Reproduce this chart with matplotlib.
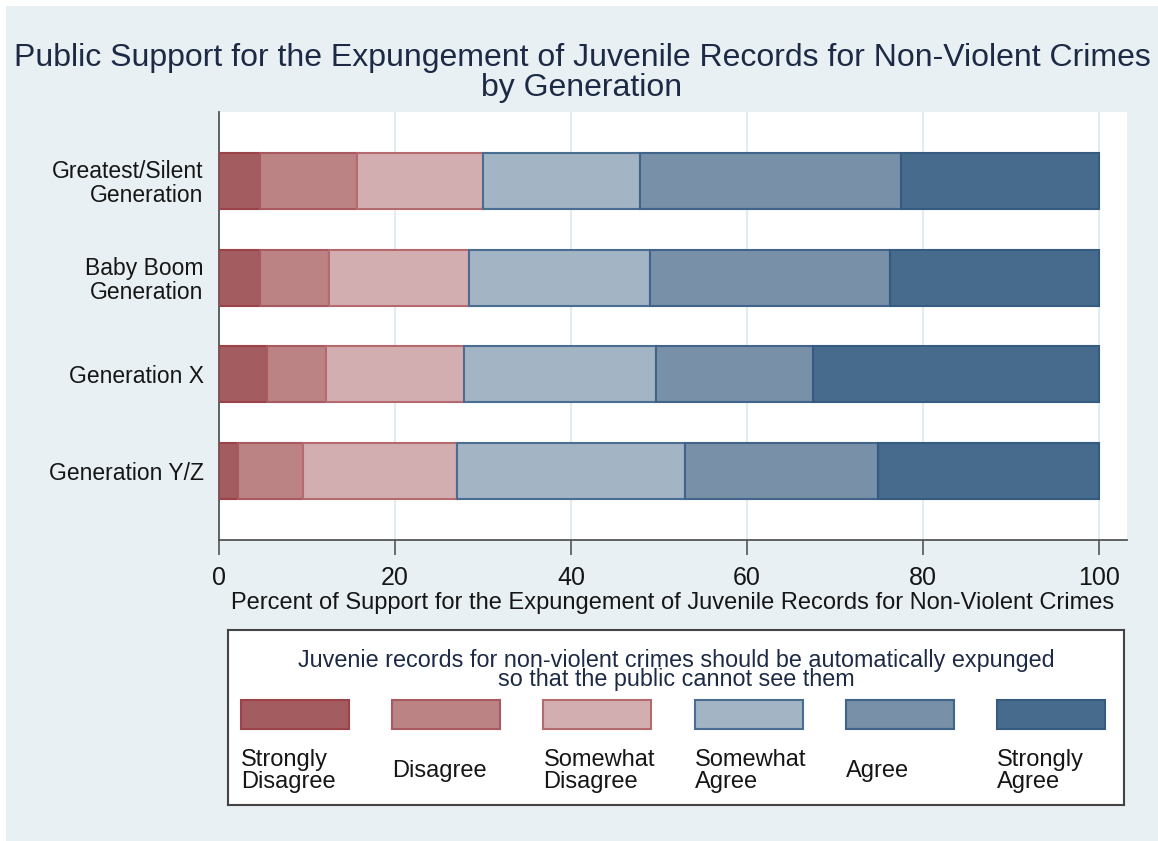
import matplotlib
matplotlib.use("Agg")
import matplotlib.pyplot as plt
from matplotlib.patches import Rectangle

plt.rcParams['font.family'] = ['Liberation Sans', 'DejaVu Sans']

# data (percent of respondents)
generations = ["Greatest/Silent\nGeneration", "Baby Boom\nGeneration",
               "Generation X", "Generation Y/Z"]
responses = ["Strongly\nDisagree", "Disagree", "Somewhat\nDisagree",
             "Somewhat\nAgree", "Agree", "Strongly\nAgree"]
strongly_disagree = [4.7, 4.7, 5.4, 2.2]
disagree = [11.0, 7.8, 6.8, 7.4]
somewhat_disagree = [14.3, 15.9, 15.7, 17.5]
somewhat_agree = [17.9, 20.6, 21.8, 25.9]
agree = [29.6, 27.3, 17.8, 21.9]
strongly_agree = [22.5, 23.7, 32.5, 25.1]

series = [strongly_disagree, disagree, somewhat_disagree,
          somewhat_agree, agree, strongly_agree]
fills = ["#a35c60", "#bb8384", "#d3aeb0", "#a3b4c5", "#7890a8", "#476b8c"]
edges = ["#9c4249", "#a85a60", "#b56a70", "#4a6e92", "#41658a", "#365b80"]

panel = "#e8f0f3"
title_col = "#1d2a45"
text_col = "#161616"

fig = plt.figure(figsize=(11.58, 8.41), dpi=100)
fig.patch.set_facecolor("white")
fig.patches.append(Rectangle((6 / 1158, 0), 1, 1 - 6 / 841, transform=fig.transFigure,
                             facecolor=panel, edgecolor="none", zorder=-10))

ax = fig.add_axes([219 / 1158, 1 - 540 / 841, 908 / 1158, 428 / 841])
ax.set_facecolor("white")

ypos = list(range(1, len(generations) + 1))
left = [0.0] * len(generations)
for vals, fc, ec in zip(series, fills, edges):
    ax.barh(ypos, vals, left=left, height=0.58, color=fc, edgecolor=ec,
            linewidth=1.5, zorder=3)
    left = [l + v for l, v in zip(left, vals)]

ax.set_xlim(0, 103.2)
ax.set_ylim(4.71, 0.29)
ax.set_xticks([0, 20, 40, 60, 80, 100])
ax.set_yticks(ypos)
ax.set_yticklabels(generations, fontsize=16.5, color=text_col, linespacing=1.05)
ax.tick_params(axis="y", length=0, pad=11)
ax.tick_params(axis="x", length=11, width=1.2, color="#555555",
               labelsize=18, labelcolor=text_col, pad=8)
ax.grid(axis="x", color="#e3ecf0", linewidth=1.5, zorder=0)
for s in ["top", "right"]:
    ax.spines[s].set_visible(False)
for s in ["left", "bottom"]:
    ax.spines[s].set_color("#555555")
    ax.spines[s].set_linewidth(1.3)
ax.set_xlabel("Percent of Support for the Expungement of Juvenile Records for Non-Violent Crimes",
              fontsize=17, color=text_col, labelpad=1)

fig.text(0.5025, 1 - 73 / 841,
         "Public Support for the Expungement of Juvenile Records for Non-Violent Crimes\nby Generation",
         ha="center", va="center", fontsize=23, color=title_col, linespacing=0.97)

# legend box
lax = fig.add_axes([228 / 1158, 1 - 805 / 841, 896 / 1158, 175 / 841])
lax.set_xlim(0, 896)
lax.set_ylim(175, 0)
lax.set_xticks([])
lax.set_yticks([])
lax.set_facecolor("white")
for s in lax.spines.values():
    s.set_color("#444444")
    s.set_linewidth(1.5)
lax.text(448, 40, "Juvenie records for non-violent crimes should be automatically expunged\n"
         "so that the public cannot see them", ha="center", va="center",
         fontsize=16.8, color=title_col, linespacing=0.82)
step = 151.2
for i, (lab, fc, ec) in enumerate(zip(responses, fills, edges)):
    x0 = 13 + i * step
    lax.add_patch(Rectangle((x0, 70), 108, 29, facecolor=fc, edgecolor=ec, linewidth=1.5))
    lax.text(x0, 141, lab, ha="left", va="center", fontsize=17,
             color=text_col, linespacing=1.02)

fig.savefig("out.png", dpi=100, facecolor=fig.get_facecolor())
